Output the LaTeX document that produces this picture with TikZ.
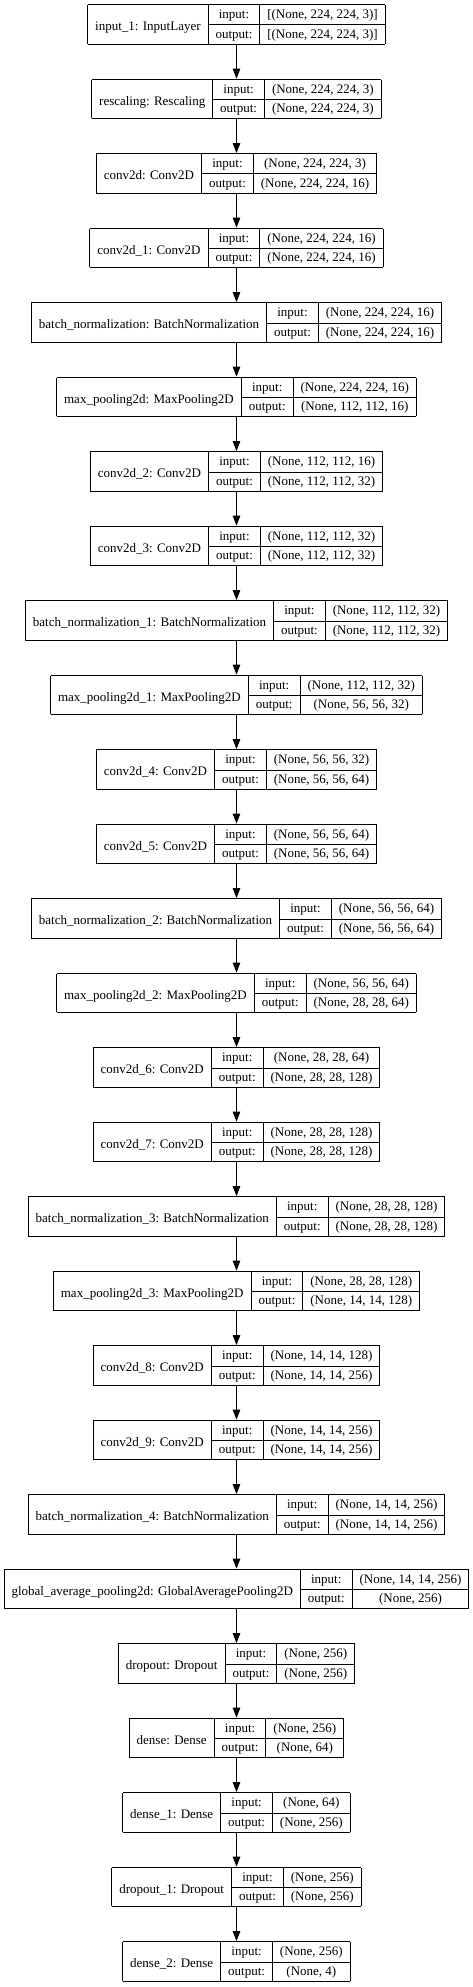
\documentclass[tikz,border=0pt]{standalone}
\usepackage{fontspec}
\setmainfont{Liberation Serif}
\usepackage{multirow}
\usepackage{tikz}
\usetikzlibrary{arrows.meta,positioning}

\setlength{\arrayrulewidth}{0.75pt}
\setlength{\tabcolsep}{5.6pt}
\renewcommand{\arraystretch}{1.24}

% one keras record: name | input:/output: | shapes
\newcommand{\layerbox}[3]{%
  \begin{tabular}{|c|c|c|}\hline
    \multirow{2}{*}[-2.4pt]{#1} & input: & #2 \\ \cline{2-3}
    & output: & #3 \\ \hline
  \end{tabular}}

\begin{document}
\begin{tikzpicture}[x=0.75pt, y=-0.75pt,
  every node/.style={font=\fontsize{9.75}{11.7}\selectfont},
  layer/.style={inner sep=0pt, outer sep=0pt},
  flow/.style={line width=0.75pt, -{Triangle[length=7.5pt, width=5.6pt]}}]

  \useasboundingbox (0,0) rectangle (473,1987);

  % === Layers ===
  \foreach \lname/\lin/\lout [count=\i from 0] in {
    {input\_1: InputLayer}/{[(None, 224, 224, 3)]}/{[(None, 224, 224, 3)]},
    {rescaling: Rescaling}/{(None, 224, 224, 3)}/{(None, 224, 224, 3)},
    {conv2d: Conv2D}/{(None, 224, 224, 3)}/{(None, 224, 224, 16)},
    {conv2d\_1: Conv2D}/{(None, 224, 224, 16)}/{(None, 224, 224, 16)},
    {batch\_normalization: BatchNormalization}/{(None, 224, 224, 16)}/{(None, 224, 224, 16)},
    {max\_pooling2d: MaxPooling2D}/{(None, 224, 224, 16)}/{(None, 112, 112, 16)},
    {conv2d\_2: Conv2D}/{(None, 112, 112, 16)}/{(None, 112, 112, 32)},
    {conv2d\_3: Conv2D}/{(None, 112, 112, 32)}/{(None, 112, 112, 32)},
    {batch\_normalization\_1: BatchNormalization}/{(None, 112, 112, 32)}/{(None, 112, 112, 32)},
    {max\_pooling2d\_1: MaxPooling2D}/{(None, 112, 112, 32)}/{(None, 56, 56, 32)},
    {conv2d\_4: Conv2D}/{(None, 56, 56, 32)}/{(None, 56, 56, 64)},
    {conv2d\_5: Conv2D}/{(None, 56, 56, 64)}/{(None, 56, 56, 64)},
    {batch\_normalization\_2: BatchNormalization}/{(None, 56, 56, 64)}/{(None, 56, 56, 64)},
    {max\_pooling2d\_2: MaxPooling2D}/{(None, 56, 56, 64)}/{(None, 28, 28, 64)},
    {conv2d\_6: Conv2D}/{(None, 28, 28, 64)}/{(None, 28, 28, 128)},
    {conv2d\_7: Conv2D}/{(None, 28, 28, 128)}/{(None, 28, 28, 128)},
    {batch\_normalization\_3: BatchNormalization}/{(None, 28, 28, 128)}/{(None, 28, 28, 128)},
    {max\_pooling2d\_3: MaxPooling2D}/{(None, 28, 28, 128)}/{(None, 14, 14, 128)},
    {conv2d\_8: Conv2D}/{(None, 14, 14, 128)}/{(None, 14, 14, 256)},
    {conv2d\_9: Conv2D}/{(None, 14, 14, 256)}/{(None, 14, 14, 256)},
    {batch\_normalization\_4: BatchNormalization}/{(None, 14, 14, 256)}/{(None, 14, 14, 256)},
    {global\_average\_pooling2d: GlobalAveragePooling2D}/{(None, 14, 14, 256)}/{(None, 256)},
    {dropout: Dropout}/{(None, 256)}/{(None, 256)},
    {dense: Dense}/{(None, 256)}/{(None, 64)},
    {dense\_1: Dense}/{(None, 64)}/{(None, 256)},
    {dropout\_1: Dropout}/{(None, 256)}/{(None, 256)},
    {dense\_2: Dense}/{(None, 256)}/{(None, 4)}} {
    \node[layer] (l\i) at (236.5, {24.5+74.5*\i}) {\layerbox{\lname}{\lin}{\lout}};
  }

  % === Connections ===
  \foreach \i [evaluate=\i as \j using int(\i+1)] in {0,...,25}
    \draw[flow] (l\i.south) -- (l\j.north);

\end{tikzpicture}
\end{document}
